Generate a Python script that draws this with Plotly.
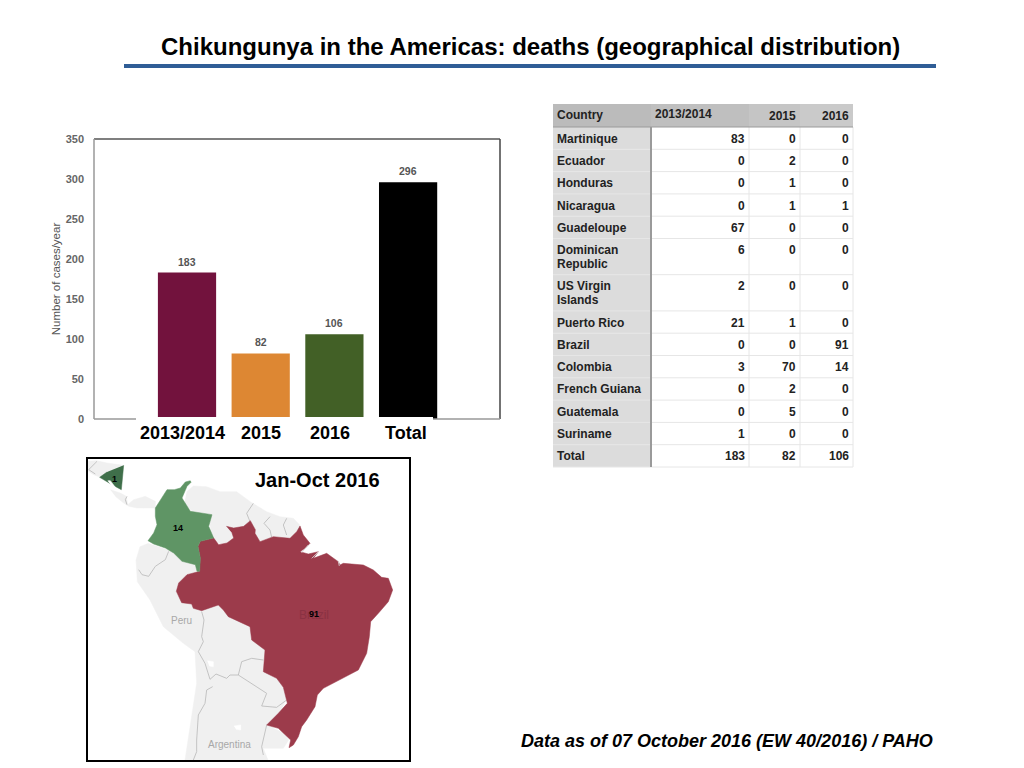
import plotly.graph_objects as go

# Bar chart values
bar_labels = ["2013/2014", "2015", "2016", "Total"]
bar_values = [183, 82, 106, 296]
bar_colors = ["#72123d", "#dd8733", "#426026", "#000000"]
label_shift = [-5, 0, -4, -2]
y_ticks = [0, 50, 100, 150, 200, 250, 300, 350]

# Table columns
countries = ["Martinique", "Ecuador", "Honduras", "Nicaragua", "Guadeloupe", "Dominican<br>Republic",
             "US Virgin<br>Islands", "Puerto Rico", "Brazil", "Colombia", "French Guiana", "Guatemala",
             "Suriname", "Total"]
deaths_2013_14 = [83, 0, 0, 0, 67, 6, 2, 21, 0, 3, 0, 0, 1, 183]
deaths_2015 = [0, 2, 1, 1, 0, 0, 0, 1, 0, 70, 2, 5, 0, 82]
deaths_2016 = [0, 0, 0, 1, 0, 0, 0, 0, 91, 14, 0, 0, 0, 106]
table_header = ["Country", "2013/2014", "2015", "2016"]

# Map outlines (map axis units = 3x pixels)
north_land = [(320, 125), (340, 108), (380, 110), (420, 125), (470, 125), (515, 158), (560, 185), (600, 200),
              (640, 205), (662, 228), (660, 300), (500, 320), (400, 270), (385, 205), (340, 185), (312, 165)]
south_land = [(205, 280), (180, 290), (168, 330), (172, 395), (210, 450), (250, 530), (310, 580), (345, 605),
              (350, 700), (330, 830), (315, 930), (564, 930), (550, 895), (570, 895), (610, 895), (626, 870),
              (610, 848), (580, 835), (640, 700), (520, 420), (360, 320), (265, 300)]
central_land = [(91, 119), (121, 129), (139, 139), (143, 164), (161, 149), (196, 139), (226, 154), (226, 174),
                (191, 174), (171, 174), (146, 169), (131, 159), (106, 139)]
honduras_land = [(21, 34), (51, 32), (81, 39), (131, 46), (61, 82), (41, 74), (25, 64)]
lakes = [[(382, 632), (400, 635), (400, 650), (388, 648)], [(462, 828), (482, 825), (482, 840), (468, 838)]]
borders = [
    [(365, 485), (372, 510), (365, 560), (370, 575), (355, 605), (375, 640), (390, 688)],
    [(390, 688), (408, 672), (440, 685), (450, 675), (475, 675)],
    [(475, 675), (485, 635), (515, 625), (550, 630)],
    [(475, 675), (560, 730), (545, 768), (590, 772), (620, 750)],
    [(398, 710), (380, 720), (375, 760), (355, 795), (350, 870), (350, 905), (340, 930)],
    [(560, 825), (545, 890), (550, 915)],
    [(266, 304), (256, 329), (226, 349), (206, 379), (186, 374), (176, 359)],
    [(520, 160), (500, 190), (510, 215)],
    [(570, 200), (552, 220), (570, 240), (575, 262)],
    [(620, 205), (610, 225), (620, 255)],
    [(141, 139), (136, 149), (141, 164)],
    [(51, 34), (26, 59), (46, 72)],
]
brazil = [(439, 229), (461, 234), (491, 229), (511, 212), (526, 239), (525, 250), (540, 275), (580, 260), (630, 265),
          (650, 245), (660, 228), (670, 255), (690, 280), (675, 295), (660, 305), (685, 312), (715, 305), (700, 325),
          (740, 310), (775, 335), (780, 345), (790, 340), (850, 345), (880, 360), (905, 382), (925, 385), (938, 420),
          (925, 455), (895, 490), (872, 515), (868, 560), (860, 610), (835, 660), (780, 690), (730, 715), (712, 735),
          (705, 770), (680, 810), (665, 830), (655, 860), (640, 885), (627, 893), (632, 870), (595, 835), (560, 825),
          (595, 790), (622, 760), (610, 712), (590, 685), (550, 665), (555, 600), (515, 570), (510, 530), (445, 500),
          (430, 480), (415, 465), (365, 482), (340, 475), (335, 462), (305, 458), (289, 424), (296, 399), (321, 374),
          (359, 364), (361, 324), (354, 289), (361, 274), (401, 264), (416, 284), (441, 279), (461, 264), (456, 249)]
amazon_lines = [[(685, 285), (665, 308)], [(695, 325), (715, 305)], [(775, 335), (778, 348)]]
colombia = [(331, 92), (316, 96), (301, 114), (283, 119), (261, 119), (246, 144), (226, 174), (226, 199), (231, 224),
            (221, 249), (204, 272), (221, 282), (256, 294), (281, 309), (306, 334), (346, 344), (351, 364), (359, 364),
            (361, 324), (354, 289), (361, 274), (401, 264), (386, 229), (396, 194), (361, 189), (331, 184), (306, 144),
            (321, 109), (334, 96)]
nicaragua = [(131, 46), (124, 119), (96, 104), (59, 82), (81, 66)]
nicaragua_lake = [(83, 92), (91, 92), (106, 112), (99, 114)]
map_labels = [("Peru", 303, 510, "#a8a8a8", 10), ("Argentina", 447, 883, "#a8a8a8", 10),
              ("Brazil", 703, 495, "#8a3243", 12)]
map_counts = [("1", 104, 86), ("14", 293, 233), ("91", 703, 491)]

FONT = "Liberation Sans"


def fx(px):
    return px / 1024


def fy(py):
    return 1 - py / 768


def polygon(points, color):
    return go.Scatter(x=[p[0] for p in points], y=[p[1] for p in points], mode="lines", fill="toself",
                      fillcolor=color, line=dict(color=color, width=0.5), hoverinfo="skip",
                      xaxis="x2", yaxis="y2")


def map_line(points, color="#b8b8b8"):
    return go.Scatter(x=[p[0] for p in points], y=[p[1] for p in points], mode="lines",
                      line=dict(color=color, width=0.8), hoverinfo="skip", xaxis="x2", yaxis="y2")


def paper_line(x0, y0, x1, y1, color, width):
    return dict(type="line", xref="paper", yref="paper", x0=fx(x0), y0=fy(y0), x1=fx(x1), y1=fy(y1),
                line=dict(color=color, width=width))


def paper_rect(x0, y0, x1, y1, color):
    return dict(type="rect", xref="paper", yref="paper", x0=fx(x0), y0=fy(y1), x1=fx(x1), y1=fy(y0),
                fillcolor=color, line=dict(width=0), layer="below")


def paper_text(x, y, text, size, xanchor="center", color="#000000"):
    return dict(x=fx(x), y=fy(y), xref="paper", yref="paper", xanchor=xanchor, yanchor="middle", text=text,
                showarrow=False, font=dict(family=FONT, size=size, color=color))


fig = go.Figure()

fig.add_trace(go.Bar(
    x=bar_labels, y=bar_values, marker=dict(color=bar_colors, line=dict(width=0)), hoverinfo="skip",
))

# Map
for shape_pts in [north_land, south_land, central_land, honduras_land]:
    fig.add_trace(polygon(shape_pts, "#f0f0f0"))
for lake in lakes:
    fig.add_trace(polygon(lake, "#ffffff"))
for line_pts in borders:
    fig.add_trace(map_line(line_pts))
fig.add_trace(polygon(brazil, "#9c3b4b"))
for line_pts in amazon_lines:
    fig.add_trace(map_line(line_pts, "#d8d8d8"))
fig.add_trace(polygon(colombia, "#5f9565"))
fig.add_trace(polygon(nicaragua, "#3f6f4a"))
fig.add_trace(polygon(nicaragua_lake, "#ffffff"))

annotations = []
for i, (name, value, shift) in enumerate(zip(bar_labels, bar_values, label_shift)):
    # numeric position, "2015" as a string would be read as a category index
    annotations.append(dict(x=i, y=0, xref="x", yref="y", yanchor="middle", yshift=-14, xshift=shift,
                            text=f"<b>{name}</b>", showarrow=False, font=dict(family=FONT, size=18, color="#000")))
    annotations.append(dict(x=i, y=value, xref="x", yref="y", yanchor="middle", yshift=11,
                            text=f"<b>{value}</b>", showarrow=False, font=dict(family=FONT, size=10.5, color="#555555")))
for text, x, y, color, size in map_labels:
    annotations.append(dict(x=x, y=y, xref="x2", yref="y2", text=text, showarrow=False,
                            font=dict(family=FONT, size=size, color=color)))
for text, x, y in map_counts:
    annotations.append(dict(x=x, y=y, xref="x2", yref="y2", text=f"<b>{text}</b>", showarrow=False,
                            font=dict(family=FONT, size=9, color="#000")))
annotations.append(paper_text(317, 480, "<b>Jan-Oct 2016</b>", 20))
annotations.append(paper_text(530, 47, "<b>Chikungunya in the Americas: deaths (geographical distribution)</b>", 24))
annotations.append(paper_text(727, 741, "<b><i>Data as of 07 October 2016 (EW 40/2016) / PAHO</i></b>", 18))

shapes = [
    paper_line(124, 66, 936, 66, "#2f5d96", 4),
    # bars stop just above the axis in the source, only the black one reaches it
    dict(type="rect", xref="paper", yref="paper", x0=fx(136), x1=fx(433), y0=fy(421), y1=fy(417),
         fillcolor="#ffffff", line=dict(width=0)),
    paper_line(94, 139, 500, 139, "#555555", 1.5),
    paper_line(94, 139, 94, 419, "#999999", 1.5),
    paper_line(500, 139, 500, 419, "#444444", 1.5),
    paper_line(94, 419, 136, 419, "#999999", 1.5),
    paper_line(433, 419, 500, 419, "#999999", 1.5),
    dict(type="rect", xref="paper", yref="paper", x0=fx(87), x1=fx(410), y0=fy(761), y1=fy(458),
         line=dict(color="#000", width=2)),
]

# Table: go.Table forces at least 30px rows, so it is laid out with shapes and text
col_edges = [553, 651, 749, 800, 853]
header_fills = ["#bbbbbb", "#bfbfbf", "#c5c5c5", "#cacaca"]
header_y = [115, 114, 116, 116]
header_x = [555, 653, 798, 851]
header_anchor = ["left", "left", "right", "right"]
table_top, header_bottom = 104, 127
number_right = [747, 798, 851]
TEXT_COLOR = "#222222"

for i, head in enumerate(table_header):
    shapes.append(paper_rect(col_edges[i], table_top, col_edges[i + 1], header_bottom, header_fills[i]))
    annotations.append(paper_text(header_x[i], header_y[i], f"<b>{head}</b>", 12, header_anchor[i], TEXT_COLOR))

row_top = header_bottom
for r, name in enumerate(countries):
    row_h = 36.2 if "<br>" in name else 22.3
    row_bottom = row_top + row_h
    shapes.append(paper_rect(col_edges[0], row_top, col_edges[1], row_bottom, "#dcdcdc"))
    shapes.append(paper_line(col_edges[0], row_bottom, col_edges[-1], row_bottom, "#e6e6e6", 1))
    first, *rest = name.split("<br>")
    annotations.append(paper_text(555, row_top + 11.6, f"<b>{first}</b>", 12, "left", TEXT_COLOR))
    if rest:
        annotations.append(paper_text(555, row_top + 25.6, f"<b>{rest[0]}</b>", 12, "left", TEXT_COLOR))
    row_vals = [deaths_2013_14[r], deaths_2015[r], deaths_2016[r]]
    for right, val in zip(number_right, row_vals):
        annotations.append(paper_text(right, row_top + 11.6, f"<b>{val}</b>", 12, "right", TEXT_COLOR))
    row_top = row_bottom

for edge in col_edges[2:]:
    shapes.append(paper_line(edge, header_bottom, edge, row_top, "#e6e6e6", 1))
shapes.append(paper_line(col_edges[0], header_bottom, col_edges[-1], header_bottom, "#9a9a9a", 1))
shapes.append(paper_line(col_edges[1], header_bottom, col_edges[1], row_top, "#9a9a9a", 2))

fig.update_layout(
    width=1024, height=768, margin=dict(l=0, r=0, t=0, b=0, autoexpand=False),
    paper_bgcolor="#ffffff", plot_bgcolor="rgba(0,0,0,0)", showlegend=False,
    bargap=0.21, annotations=annotations, shapes=shapes,
    xaxis=dict(domain=[fx(94), fx(500)], range=[-1.262, 4.247], type="category", categoryorder="array",
               categoryarray=bar_labels, showticklabels=False, showgrid=False, zeroline=False, ticks="", showline=False),
    yaxis=dict(domain=[fy(419), fy(139)], range=[0, 350], tickvals=y_ticks, showgrid=False, zeroline=False,
               showline=False, ticks="", ticklabelstandoff=9,
               tickfont=dict(family=FONT, size=11, color="#666666", weight="bold"),
               title=dict(text="Number of cases/year", standoff=2, font=dict(family=FONT, size=11.5, color="#555555"))),
    xaxis2=dict(domain=[fx(87), fx(410)], range=[21, 990], visible=False, anchor="y2"),
    yaxis2=dict(domain=[fy(761), fy(458)], range=[933, 24], visible=False, anchor="x2"),
)

fig.write_html("out.html", config=dict(displayModeBar=False), post_script="document.body.style.margin='0';")
